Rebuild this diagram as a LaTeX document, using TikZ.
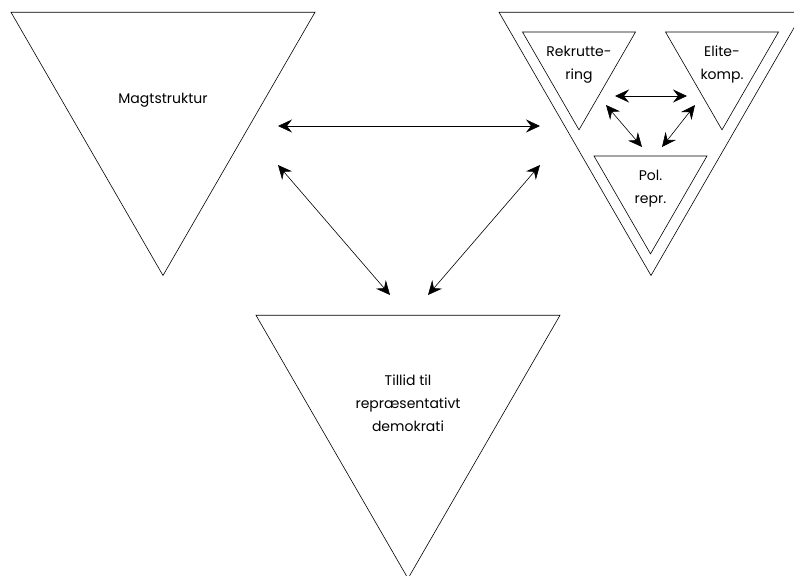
\documentclass[tikz,border=0pt]{standalone}
\usepackage{fontspec}
\setmainfont{Poppins}
\usetikzlibrary{shapes.geometric,arrows.meta}
\tikzstyle{bigtri}=[regular polygon,regular polygon sides=3,shape border rotate=180,draw,line width=0.6pt,minimum size=351pt,inner sep=0pt,outer sep=0pt]
\tikzstyle{smalltri}=[regular polygon,regular polygon sides=3,shape border rotate=180,draw,line width=0.6pt,minimum size=130.5pt,inner sep=0pt,outer sep=0pt]
\tikzstyle{tritext}=[align=center,inner sep=0pt,font=\fontsize{14}{23}\selectfont]
\tikzstyle{link}=[{Stealth[length=14pt,width=13pt,inset=5pt]}-{Stealth[length=14pt,width=13pt,inset=5pt]},line width=0.6pt]

\begin{document}
\begin{tikzpicture}[x=1pt,y=-1pt]
\clip (0,0) rectangle (794,575);

    % the three main triangles
    \foreach \pos/\name/\txt in {{(163,100)/magt/Magtstruktur}, {(651,100)/model/}, {(408,403)/tillid/{Tillid til\\repræsentativt\\demokrati}}}
        \node[bigtri,label={[tritext]center:\txt}] (\name) at \pos {};

    % the inner triangles
    \foreach \pos/\name/\txt in {{(579,64.6)/rekrut/{Rekrutte-\\ring}}, {(722,64.6)/elite/{Elite-\\komp.}}, {(650.5,188.6)/polrepr/{Pol.\\repr.}}}
        \node[smalltri,label={[tritext]center:\txt}] (\name) at \pos {};

    % arrow ends
    \coordinate (ma) at (278,126);
    \coordinate (mb) at (540,126);
    \coordinate (mc) at (278,165);
    \coordinate (md) at (390,295);
    \coordinate (me) at (540,165);
    \coordinate (mf) at (428,295);
    \coordinate (ia) at (615,96);
    \coordinate (ib) at (687,96);
    \coordinate (ic) at (606,105);
    \coordinate (id) at (642,147);
    \coordinate (ie) at (695,105);
    \coordinate (if) at (662,147);

    \foreach \source/\dest in {ma/mb, mc/md, me/mf, ia/ib, ic/id, ie/if}
        \draw[link] (\source) -- (\dest);

\end{tikzpicture}
\end{document}
